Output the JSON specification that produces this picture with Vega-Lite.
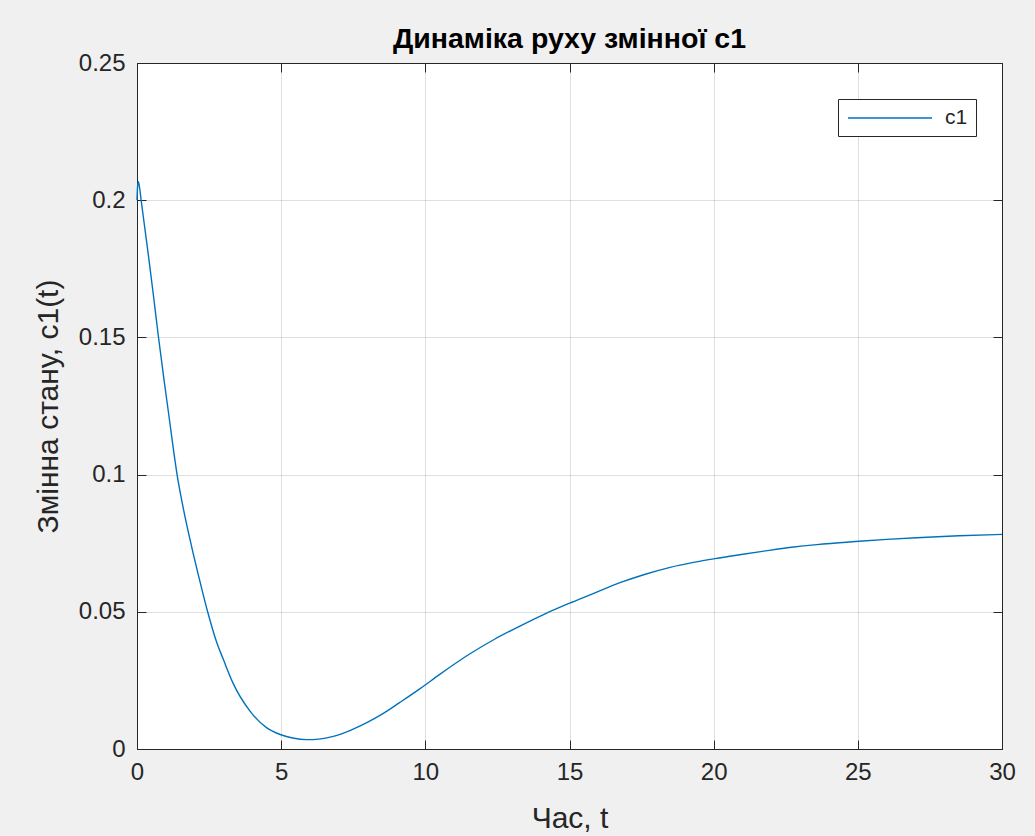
{
  "$schema": "https://vega.github.io/schema/vega-lite/v6.json",
  "width": 865,
  "height": 686,
  "autosize": {"type": "none"},
  "padding": {"left": 137, "top": 63, "right": 33, "bottom": 87},
  "background": "#f0f0f0",
  "config": {
    "view": {"fill": "white", "stroke": "#262626", "strokeWidth": 1},
    "font": "Liberation Sans"
  },
  "title": {
    "text": "Динаміка руху змінної с1",
    "fontSize": 28.5,
    "fontWeight": "bold",
    "font": "Liberation Sans",
    "color": "#000000",
    "anchor": "middle",
    "offset": -2
  },
  "data": {
    "values": [
      {"t": 0, "c1": 0.2000},
      {"t": 0.02, "c1": 0.2050},
      {"t": 0.05, "c1": 0.2067},
      {"t": 0.09, "c1": 0.2045},
      {"t": 0.15, "c1": 0.1995},
      {"t": 0.25, "c1": 0.1915},
      {"t": 0.4, "c1": 0.1795},
      {"t": 0.55, "c1": 0.1670},
      {"t": 0.74, "c1": 0.1505},
      {"t": 0.95, "c1": 0.1335},
      {"t": 1.1, "c1": 0.1220},
      {"t": 1.24, "c1": 0.1110},
      {"t": 1.39, "c1": 0.1000},
      {"t": 1.6, "c1": 0.0880},
      {"t": 1.9, "c1": 0.0735},
      {"t": 2.185, "c1": 0.0610},
      {"t": 2.45, "c1": 0.0500},
      {"t": 2.76, "c1": 0.0390},
      {"t": 3.0, "c1": 0.0325},
      {"t": 3.33, "c1": 0.0240},
      {"t": 3.92, "c1": 0.0138},
      {"t": 4.49, "c1": 0.0078},
      {"t": 4.99, "c1": 0.0052},
      {"t": 5.4, "c1": 0.0040},
      {"t": 5.89, "c1": 0.0034},
      {"t": 6.3, "c1": 0.0036},
      {"t": 6.81, "c1": 0.0046},
      {"t": 7.4, "c1": 0.0068},
      {"t": 7.97, "c1": 0.0096},
      {"t": 8.5, "c1": 0.0127},
      {"t": 9.12, "c1": 0.0170},
      {"t": 9.82, "c1": 0.0220},
      {"t": 10.5, "c1": 0.0272},
      {"t": 11.55, "c1": 0.0347},
      {"t": 12.4, "c1": 0.0400},
      {"t": 13.28, "c1": 0.0448},
      {"t": 14.1, "c1": 0.0490},
      {"t": 15.04, "c1": 0.0533},
      {"t": 15.9, "c1": 0.0570},
      {"t": 16.75, "c1": 0.0606},
      {"t": 17.6, "c1": 0.0636},
      {"t": 18.49, "c1": 0.0662},
      {"t": 19.3, "c1": 0.0680},
      {"t": 20.05, "c1": 0.0694},
      {"t": 20.9, "c1": 0.0708},
      {"t": 21.8, "c1": 0.0722},
      {"t": 22.7, "c1": 0.0735},
      {"t": 23.58, "c1": 0.0745},
      {"t": 25.05, "c1": 0.0757},
      {"t": 26.0, "c1": 0.0764},
      {"t": 27.04, "c1": 0.0770},
      {"t": 28.5, "c1": 0.0777},
      {"t": 30, "c1": 0.0782}
    ]
  },
  "layer": [
    {
      "mark": {"type": "line", "strokeWidth": 1.4, "interpolate": "monotone"},
      "encoding": {
        "x": {
          "field": "t", "type": "quantitative",
          "scale": {"domain": [0, 30], "nice": false, "zero": false},
          "axis": {
            "orient": "bottom",
            "values": [0, 5, 10, 15, 20, 25, 30],
            "title": "Час, t",
            "titleFontSize": 30, "titleFontWeight": "normal", "titleColor": "#262626",
            "titlePadding": 19,
            "labelFontSize": 24, "labelColor": "#262626", "labelPadding": 20,
            "tickSize": -9, "tickColor": "#262626", "domainColor": "#262626",
            "gridColor": "#262626", "gridOpacity": 0.15, "labelFlush": false
          }
        },
        "y": {
          "field": "c1", "type": "quantitative",
          "scale": {"domain": [0, 0.25], "nice": false},
          "axis": {
            "orient": "left",
            "values": [0, 0.05, 0.1, 0.15, 0.2, 0.25],
            "format": "~g",
            "title": "Змінна стану, с1(t)",
            "titleFontSize": 30, "titleFontWeight": "normal", "titleColor": "#262626",
            "titlePadding": 15,
            "labelFontSize": 24, "labelColor": "#262626", "labelPadding": 21,
            "tickSize": -9, "tickColor": "#262626", "domainColor": "#262626",
            "gridColor": "#262626", "gridOpacity": 0.15, "labelFlush": false
          }
        },
        "color": {
          "datum": "c1", "type": "nominal",
          "scale": {"range": ["#0072BD"]},
          "legend": {
            "title": null,
            "orient": "none",
            "legendX": 701,
            "legendY": 36,
            "symbolType": "M-4.2,0H4.2",
            "symbolSize": 400,
            "symbolOffset": 33,
            "symbolStrokeWidth": 1.6,
            "labelFontSize": 21,
            "labelColor": "#262626",
            "labelOffset": 44,
            "fillColor": "white",
            "strokeColor": "#262626",
            "padding": 8
          }
        }
      }
    },
    {
      "mark": {"type": "line", "opacity": 0},
      "encoding": {
        "x": {
          "field": "t", "type": "quantitative",
          "axis": {
            "orient": "top", "values": [0, 5, 10, 15, 20, 25, 30],
            "labels": false, "title": null, "grid": false,
            "tickSize": -9, "tickColor": "#262626", "domainColor": "#262626"
          }
        },
        "y": {
          "field": "c1", "type": "quantitative",
          "axis": {
            "orient": "right", "values": [0, 0.05, 0.1, 0.15, 0.2, 0.25],
            "labels": false, "title": null, "grid": false,
            "tickSize": -9, "tickColor": "#262626", "domainColor": "#262626"
          }
        }
      }
    }
  ],
  "resolve": {"axis": {"x": "independent", "y": "independent"}}
}
